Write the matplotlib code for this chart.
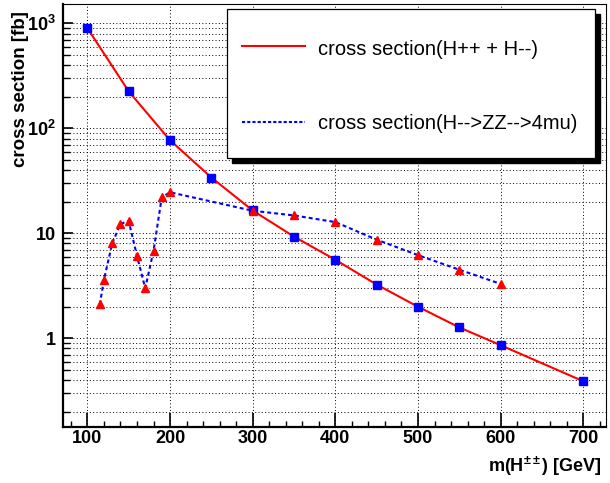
import matplotlib
matplotlib.use("Agg")
import matplotlib.pyplot as plt
from matplotlib import font_manager
from matplotlib.ticker import FixedLocator, LogLocator, NullFormatter, FixedFormatter, MultipleLocator
from matplotlib.patches import Rectangle
from matplotlib.lines import Line2D

# ---- data ----
mass_total = [100, 150, 200, 250, 300, 350, 400, 450, 500, 550, 600, 700]
xs_total = [900, 225, 77, 34, 16.5, 9.3, 5.6, 3.25, 2.0, 1.27, 0.86, 0.39]

mass_4mu = [115, 120, 130, 140, 150, 160, 170, 180, 190, 200, 300, 350, 400, 450, 500, 550, 600]
xs_4mu = [2.1, 3.6, 8.0, 12.3, 13.1, 6.1, 3.0, 6.8, 22, 24.6, 16.4, 14.8, 12.8, 8.7, 6.2, 4.5, 3.3]

x_ticks = [100, 200, 300, 400, 500, 600, 700]
x_tick_labels = ["100", "200", "300", "400", "500", "600", "700"]
y_ticks = [1, 10, 100, 1000]
y_tick_labels = ["1", "10", r"$10^{2}$", r"$10^{3}$"]

label_total = "cross section(H++ + H--)"
label_4mu = "cross section(H-->ZZ-->4mu)"
xlabel = r"m(H$^{\pm\pm}$) [GeV]"
ylabel = "cross section [fb]"

installed = {f.name for f in font_manager.fontManager.ttflist}
BOLDFAM = "Liberation Sans Narrow" if "Liberation Sans Narrow" in installed else "Liberation Sans"
TICKSIZE = 14 if BOLDFAM == "Liberation Sans Narrow" else 13
NARROW = [BOLDFAM, "DejaVu Sans"]
plt.rcParams["mathtext.fontset"] = "custom"
for k in ["rm", "bf", "it", "sf"]:
    plt.rcParams["mathtext." + k] = BOLDFAM + ":bold"

W, H = 610, 483
fig = plt.figure(figsize=(W / 100, H / 100), dpi=100)
L, R, T, B = 63, 606, 3.5, 427
ax = fig.add_axes([L / W, (H - B) / H, (R - L) / W, (B - T) / H])

ax.set_yscale("log")
ax.set_xlim(70.5, 727.5)
ax.set_ylim(0.143, 1545)

# grid
gridkw = dict(color="black", linewidth=0.7, linestyle=(0, (1, 2.4)))
ax.set_axisbelow(True)
ax.xaxis.set_major_locator(FixedLocator(x_ticks))
ax.xaxis.set_minor_locator(MultipleLocator(20))
ax.yaxis.set_major_locator(FixedLocator(y_ticks))
ax.yaxis.set_minor_locator(LogLocator(base=10, subs=[2, 3, 4, 5, 6, 7, 8, 9], numticks=20))
ax.yaxis.set_minor_formatter(NullFormatter())
ax.grid(True, which="major", axis="x", **gridkw)
ax.grid(True, which="both", axis="y", **gridkw)

ax.xaxis.set_major_formatter(FixedFormatter(x_tick_labels))
ax.yaxis.set_major_formatter(FixedFormatter(y_tick_labels))

# series
ax.plot(mass_total, xs_total, color="#ff0000", linewidth=1.5, zorder=3)
ax.plot(mass_total, xs_total, linestyle="none", marker="s", markersize=6.2,
        markerfacecolor="#0000ff", markeredgecolor="#0000ff", zorder=4)
ax.plot(mass_4mu, xs_4mu, color="#0000ff", linewidth=1.5,
        linestyle=(0, (1.9, 1.45)), zorder=5)
ax.plot(mass_4mu, xs_4mu, linestyle="none", marker="^", markersize=6.3,
        markerfacecolor="#ff0000", markeredgecolor="#ff0000", zorder=6)

# ticks
ax.tick_params(axis="x", which="major", direction="in", length=10, width=1.2,
               top=False, bottom=True, pad=2.5)
ax.tick_params(axis="x", which="minor", direction="in", length=4.5, width=1.0,
               top=False, bottom=True)
ax.tick_params(axis="y", which="major", direction="in", length=7, width=1.2,
               left=True, right=False, pad=5)
ax.tick_params(axis="y", which="minor", direction="in", length=5, width=1.0,
               left=True, right=False)
for lab in ax.get_xticklabels() + ax.get_yticklabels():
    lab.set_fontfamily(NARROW)
    lab.set_fontweight("bold")
    lab.set_fontsize(TICKSIZE)

for s in ["left", "bottom"]:
    ax.spines[s].set_linewidth(1.6)
for s in ["top", "right"]:
    ax.spines[s].set_linewidth(0.8)

# axis titles
fig.text(602 / W, 1 - 471.5 / H, xlabel, ha="right", va="baseline",
         fontsize=TICKSIZE, fontweight="bold", family=NARROW)
fig.text(20.3 / W, 1 - 11 / H, ylabel, ha="center", va="top", rotation=90,
         fontsize=13.5, fontweight="bold", family=["Liberation Sans", "DejaVu Sans"])

# legend (drawn manually in axes coordinates)
def fx(px):
    return (px - L) / (R - L)

def fy(py):
    return (B - py) / (B - T)

bx0, bx1, by0, by1 = fx(227), fx(595), fy(158), fy(9)
dx, dy = 5 / (R - L), 5 / (B - T)
ax.add_patch(Rectangle((bx0 + dx, by0 - dy), bx1 - bx0, by1 - by0,
                       transform=ax.transAxes, facecolor="black",
                       edgecolor="black", zorder=9, clip_on=False))
ax.add_patch(Rectangle((bx0, by0), bx1 - bx0, by1 - by0,
                       transform=ax.transAxes, facecolor="white",
                       edgecolor="black", linewidth=0.9, zorder=10, clip_on=False))
ax.add_line(Line2D([fx(242), fx(305)], [fy(46), fy(46)], transform=ax.transAxes,
                   color="#ff0000", linewidth=1.5, zorder=11))
ax.add_line(Line2D([fx(242), fx(305)], [fy(121.5), fy(121.5)], transform=ax.transAxes,
                   color="#0000ff", linewidth=1.5, linestyle=(0, (1.5, 1.0)), zorder=11))
ax.text(fx(318), fy(55), label_total, transform=ax.transAxes, ha="left",
        va="baseline", fontsize=14.5, family=["Liberation Sans", "DejaVu Sans"], zorder=12)
ax.text(fx(318), fy(129.3), label_4mu, transform=ax.transAxes, ha="left",
        va="baseline", fontsize=14.5, family=["Liberation Sans", "DejaVu Sans"], zorder=12)

fig.savefig("out.png", dpi=100)
